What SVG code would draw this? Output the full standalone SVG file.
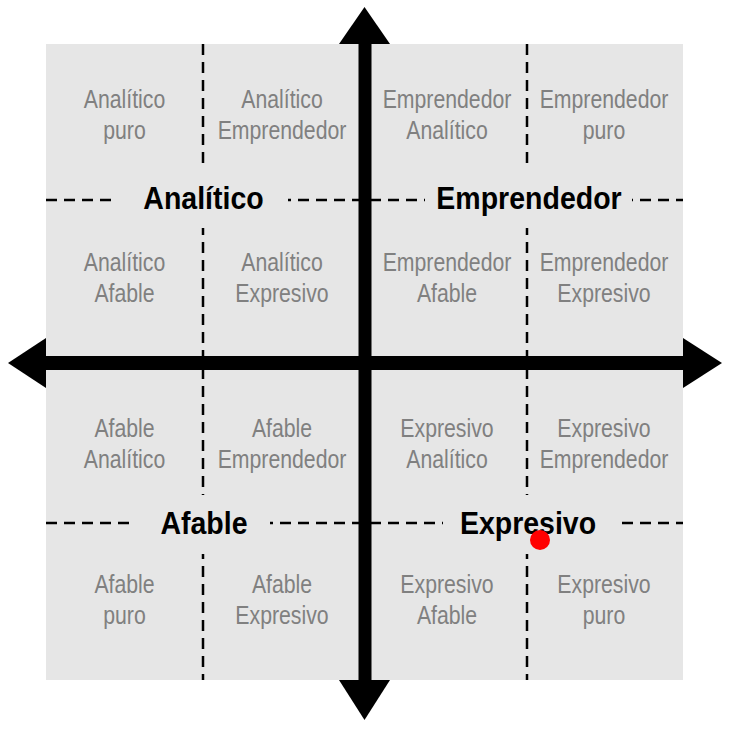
<svg xmlns="http://www.w3.org/2000/svg" width="731" height="731" viewBox="0 0 731 731">
<style>
.bg{fill:#e6e6e6}
.dash{stroke:#000;stroke-width:2.5;stroke-dasharray:11 7;fill:none}
.lbox{fill:#e6e6e6}
.cell{font-family:"Liberation Sans",Arial,sans-serif;font-size:25px;fill:#808080;text-anchor:middle}
.main{font-family:"Liberation Sans",Arial,sans-serif;font-size:31px;font-weight:bold;fill:#000;text-anchor:middle}
.axis{fill:#000}
</style>
<rect width="731" height="731" fill="#fff"/>
<rect class="bg" x="46" y="44" width="637" height="636"/>
<g id="grid">
<line class="dash" x1="46" y1="200" x2="683" y2="200"/>
<line class="dash" x1="46" y1="523" x2="683" y2="523"/>
<line class="dash" x1="203" y1="44" x2="203" y2="680"/>
<line class="dash" x1="527" y1="44" x2="527" y2="680"/>
</g>
<g id="cell-analitico-puro" transform="translate(124.5 0) scale(0.85 1)"><text class="cell" x="0" y="108">Analítico</text><text class="cell" x="0" y="139">puro</text></g>
<g id="cell-analitico-emprendedor" transform="translate(282 0) scale(0.85 1)"><text class="cell" x="0" y="108">Analítico</text><text class="cell" x="0" y="139">Emprendedor</text></g>
<g id="cell-emprendedor-analitico" transform="translate(447 0) scale(0.85 1)"><text class="cell" x="0" y="108">Emprendedor</text><text class="cell" x="0" y="139">Analítico</text></g>
<g id="cell-emprendedor-puro" transform="translate(604 0) scale(0.85 1)"><text class="cell" x="0" y="108">Emprendedor</text><text class="cell" x="0" y="139">puro</text></g>
<g id="cell-analitico-afable" transform="translate(124.5 0) scale(0.85 1)"><text class="cell" x="0" y="271">Analítico</text><text class="cell" x="0" y="302">Afable</text></g>
<g id="cell-analitico-expresivo" transform="translate(282 0) scale(0.85 1)"><text class="cell" x="0" y="271">Analítico</text><text class="cell" x="0" y="302">Expresivo</text></g>
<g id="cell-emprendedor-afable" transform="translate(447 0) scale(0.85 1)"><text class="cell" x="0" y="271">Emprendedor</text><text class="cell" x="0" y="302">Afable</text></g>
<g id="cell-emprendedor-expresivo" transform="translate(604 0) scale(0.85 1)"><text class="cell" x="0" y="271">Emprendedor</text><text class="cell" x="0" y="302">Expresivo</text></g>
<g id="cell-afable-analitico" transform="translate(124.5 0) scale(0.85 1)"><text class="cell" x="0" y="437">Afable</text><text class="cell" x="0" y="468">Analítico</text></g>
<g id="cell-afable-emprendedor" transform="translate(282 0) scale(0.85 1)"><text class="cell" x="0" y="437">Afable</text><text class="cell" x="0" y="468">Emprendedor</text></g>
<g id="cell-expresivo-analitico" transform="translate(447 0) scale(0.85 1)"><text class="cell" x="0" y="437">Expresivo</text><text class="cell" x="0" y="468">Analítico</text></g>
<g id="cell-expresivo-emprendedor" transform="translate(604 0) scale(0.85 1)"><text class="cell" x="0" y="437">Expresivo</text><text class="cell" x="0" y="468">Emprendedor</text></g>
<g id="cell-afable-puro" transform="translate(124.5 0) scale(0.85 1)"><text class="cell" x="0" y="593">Afable</text><text class="cell" x="0" y="624">puro</text></g>
<g id="cell-afable-expresivo" transform="translate(282 0) scale(0.85 1)"><text class="cell" x="0" y="593">Afable</text><text class="cell" x="0" y="624">Expresivo</text></g>
<g id="cell-expresivo-afable" transform="translate(447 0) scale(0.85 1)"><text class="cell" x="0" y="593">Expresivo</text><text class="cell" x="0" y="624">Afable</text></g>
<g id="cell-expresivo-puro" transform="translate(604 0) scale(0.85 1)"><text class="cell" x="0" y="593">Expresivo</text><text class="cell" x="0" y="624">puro</text></g>
<g id="label-analitico"><rect class="lbox" x="118" y="168" width="170" height="60"/><text class="main" transform="translate(203.5 0) scale(0.92 1)" x="0" y="209">Analítico</text></g>
<g id="label-emprendedor"><rect class="lbox" x="425" y="168" width="207" height="60"/><text class="main" transform="translate(529 0) scale(0.92 1)" x="0" y="209">Emprendedor</text></g>
<g id="label-afable"><rect class="lbox" x="135" y="495" width="135" height="59"/><text class="main" transform="translate(204 0) scale(0.92 1)" x="0" y="534">Afable</text></g>
<g id="label-expresivo"><rect class="lbox" x="443" y="495" width="174" height="59"/><text class="main" transform="translate(528 0) scale(0.92 1)" x="0" y="534">Expresivo</text></g>
<g id="axes">
<rect class="axis" x="358.5" y="40" width="13" height="644"/>
<rect class="axis" x="42" y="356" width="645" height="14"/>
<polygon class="axis" points="339,44 390,44 364.5,7"/>
<polygon class="axis" points="339,680 390,680 364.5,720"/>
<polygon class="axis" points="46,338 46,388 8,363"/>
<polygon class="axis" points="683,338 683,388 722,363"/>
</g>
<g id="marker-dot"><circle cx="540" cy="540" r="10" fill="#ff0000"/></g>
</svg>
